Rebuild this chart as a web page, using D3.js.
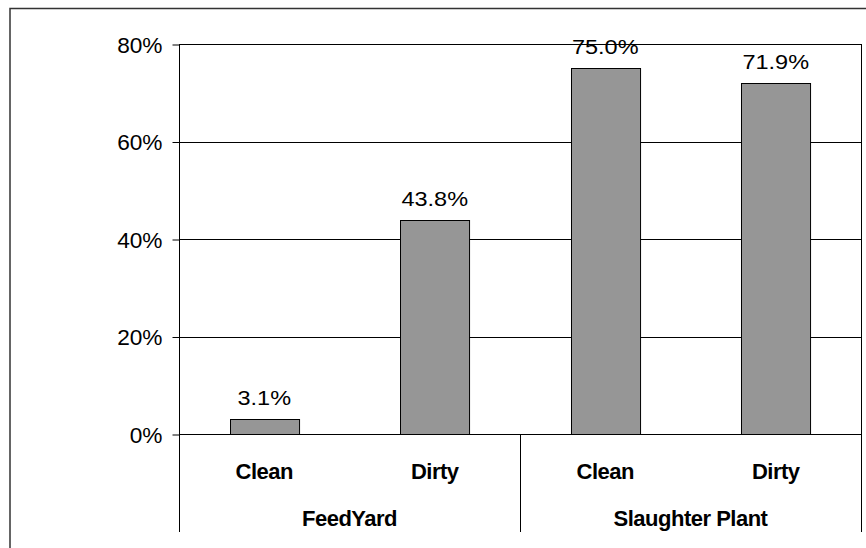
<!DOCTYPE html>
<html>
<head>
<meta charset="utf-8">
<script src="https://cdn.jsdelivr.net/npm/d3@7/dist/d3.min.js"></script>
<style>
  html, body { margin: 0; padding: 0; background: #fff; }
  svg { display: block; }
  text { font-family: "Liberation Sans", Arial, sans-serif; fill: #000; }
</style>
</head>
<body>
<svg id="chart" width="866" height="548"></svg>
<script>
// ---- data ----
const groups = ["FeedYard", "Slaughter Plant"];
const categories = ["Clean", "Dirty", "Clean", "Dirty"];
const categoryGroup = [0, 0, 1, 1];
const values = [0.031, 0.438, 0.750, 0.719];
const yTicks = [0, 0.2, 0.4, 0.6, 0.8];

// ---- layout ----
const svg = d3.select("#chart");
const plot = { left: 179, right: 861, top: 44, bottom: 434 };
const axisBottom = 532;

// outer chart border (clipped by viewport on right / bottom)
svg.append("rect")
  .attr("x", 10).attr("y", 8.5)
  .attr("width", 900).attr("height", 600)
  .attr("fill", "none").attr("stroke", "#333").attr("stroke-width", 1.5);

const x = d3.scaleBand()
  .domain(d3.range(categories.length))
  .range([plot.left, plot.right])
  .paddingInner(0.595)
  .paddingOuter(0.2975);

const y = d3.scaleLinear().domain([0, 0.8]).range([plot.bottom, plot.top]);

// gridlines
svg.append("g").selectAll("line")
  .data(yTicks)
  .join("line")
  .attr("x1", plot.left).attr("x2", plot.right)
  .attr("y1", d => Math.round(y(d)) + 0.5).attr("y2", d => Math.round(y(d)) + 0.5)
  .attr("stroke", "#000").attr("stroke-width", 1);

// y axis with ticks and labels
const tickScale = 1.03;
const yAxis = d3.axisLeft(y)
  .tickValues(yTicks)
  .tickFormat(d3.format(".0%"))
  .tickSize(7)
  .tickPadding(10);
const gy = svg.append("g")
  .attr("transform", `translate(${plot.left + 0.5},0.5)`)
  .call(yAxis);
gy.select(".domain").remove();
gy.selectAll(".tick line").attr("stroke", "#000");
gy.selectAll(".tick text")
  .attr("font-size", 22)
  .attr("dy", "0.36em")
  .attr("transform", `scale(${tickScale},1)`)
  .attr("x", -17 / tickScale);

// plot area border
svg.append("rect")
  .attr("x", plot.left + 0.5).attr("y", plot.top + 0.5)
  .attr("width", plot.right - plot.left).attr("height", plot.bottom - plot.top)
  .attr("fill", "none").attr("stroke", "#000");

// bars
svg.append("g").selectAll("rect")
  .data(values)
  .join("rect")
  .attr("x", (d, i) => Math.round(x(i)) + 0.5)
  .attr("y", d => Math.round(y(d)) + 0.5)
  .attr("width", x.bandwidth())
  .attr("height", d => Math.round(y(0)) - Math.round(y(d)))
  .attr("fill", "#969696")
  .attr("stroke", "#000")
  .attr("stroke-width", 1);

// value labels
svg.append("g").selectAll("text")
  .data(values)
  .join("text")
  .attr("transform", (d, i) => `translate(${x(i) + x.bandwidth() / 2},${y(d) - 14}) scale(1.12,1)`)
  .attr("text-anchor", "middle")
  .attr("font-size", 21)
  .text(d => d3.format(".1%")(d));

// category axis: separators
const step = x.step();
const sepXs = [plot.left, plot.left + 2 * step, plot.right];
svg.append("g").selectAll("line")
  .data(sepXs)
  .join("line")
  .attr("x1", d => Math.round(d) + 0.5).attr("x2", d => Math.round(d) + 0.5)
  .attr("y1", plot.bottom).attr("y2", axisBottom)
  .attr("stroke", "#000");

// category labels
svg.append("g").selectAll("text")
  .data(categories)
  .join("text")
  .attr("x", (d, i) => x(i) + x.bandwidth() / 2)
  .attr("y", 479)
  .attr("text-anchor", "middle")
  .attr("font-size", 22)
  .attr("font-weight", "bold")
  .attr("letter-spacing", -0.5)
  .text(d => d);

// group labels
svg.append("g").selectAll("text")
  .data(groups)
  .join("text")
  .attr("x", (d, gi) => {
    const idx = d3.range(categories.length).filter(i => categoryGroup[i] === gi);
    return (x(idx[0]) - x.step() * x.paddingOuter() + x(idx[idx.length - 1]) + x.bandwidth() + x.step() * x.paddingOuter()) / 2;
  })
  .attr("y", 526)
  .attr("text-anchor", "middle")
  .attr("font-size", 22)
  .attr("font-weight", "bold")
  .attr("letter-spacing", -0.5)
  .text(d => d);
</script>
</body>
</html>
